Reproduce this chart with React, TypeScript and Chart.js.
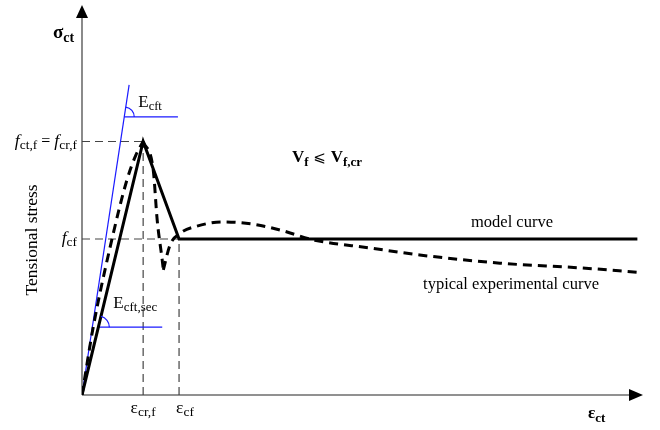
import React, { useEffect, useRef } from "react";
import { Chart, registerables } from "chart.js";
Chart.register(...registerables);

// strain (arbitrary units, 0..100) and stress (arbitrary units, 0..100)
const modelStrain = [0, 10.9, 17.3, 99];
const modelStress = [0, 65, 40, 40];
const expRiseStrain = [0, 2.0, 5.3, 8.0, 9.6, 10.9];
const expRiseStress = [0, 17.4, 39.7, 55.1, 61.5, 65];
const expFallStrain = [10.9, 12.7, 13.4, 14.3, 14.5];
const expFallStress = [65, 57.7, 44.9, 34.6, 32.1];
const expTailStrain = [14.5, 15.7, 17.5, 20.5, 25.1, 30.5, 35.3, 41.5, 51.3, 60.2, 74.5, 88.8, 98.9];
const expTailStress = [32.1, 38.5, 41.5, 43.3, 44.4, 43.8, 42.3, 39.7, 37.7, 35.9, 33.8, 32.6, 31.5];
const tangentStrain = [0, 8.4];
const tangentStress = [0, 79.5];
const tangentMarkStress = 71.3;
const tangentMarkEnd = 17.1;
const secantMarkStress = 17.4;
const secantMarkEnd = 14.3;
const peakStrain = 10.9;
const peakStress = 65;
const crackStrain = 17.3;
const residualStress = 40;

const pts = (xs: number[], ys: number[]) => xs.map((x, i) => ({ x, y: ys[i] }));

const SERIF = "'Liberation Serif', 'DejaVu Serif', serif";

type Part = { t: string; f: string; dy?: number };
function drawParts(ctx: CanvasRenderingContext2D, parts: Part[], x: number, y: number, align: "left" | "right" | "center" = "left") {
  ctx.textAlign = "left";
  ctx.textBaseline = "alphabetic";
  const widths = parts.map((p) => {
    ctx.font = p.f;
    return ctx.measureText(p.t).width;
  });
  const total = widths.reduce((a, b) => a + b, 0);
  let cx = align === "left" ? x : align === "right" ? x - total : x - total / 2;
  parts.forEach((p, i) => {
    ctx.font = p.f;
    ctx.fillText(p.t, cx, y + (p.dy || 0));
    cx += widths[i];
  });
}

const diagramPlugin = {
  id: "diagram",
  beforeDatasetsDraw(chart: any) {
    const ctx: CanvasRenderingContext2D = chart.ctx;
    const xs = chart.scales.x;
    const ys = chart.scales.y;
    const x0 = xs.getPixelForValue(0);
    const y0 = ys.getPixelForValue(0);
    const top = chart.chartArea.top;
    const right = chart.chartArea.right;
    ctx.save();
    ctx.strokeStyle = "#6e6e6e";
    ctx.lineWidth = 1.6;
    ctx.beginPath();
    ctx.moveTo(x0, y0);
    ctx.lineTo(x0, top + 10);
    ctx.moveTo(x0, y0);
    ctx.lineTo(right - 10, y0);
    ctx.stroke();
    ctx.restore();
  },
  afterDraw(chart: any) {
    const ctx: CanvasRenderingContext2D = chart.ctx;
    const xs = chart.scales.x;
    const ys = chart.scales.y;
    const X = (v: number) => xs.getPixelForValue(v);
    const Y = (v: number) => ys.getPixelForValue(v);
    const x0 = X(0);
    const y0 = Y(0);
    const top = chart.chartArea.top;
    const right = chart.chartArea.right;
    ctx.save();
    // arrowheads
    ctx.fillStyle = "#000";
    ctx.beginPath();
    ctx.moveTo(x0, top);
    ctx.lineTo(x0 - 6, top + 13);
    ctx.lineTo(x0 + 6, top + 13);
    ctx.closePath();
    ctx.fill();
    ctx.beginPath();
    ctx.moveTo(right, y0);
    ctx.lineTo(right - 14, y0 - 6);
    ctx.lineTo(right - 14, y0 + 6);
    ctx.closePath();
    ctx.fill();

    // angle arcs
    ctx.strokeStyle = "#1a1aff";
    ctx.lineWidth = 1.2;
    const tx = (tangentStrain[1] * tangentMarkStress) / tangentStress[1];
    const tcx = X(tx), tcy = Y(tangentMarkStress);
    const tang = Math.atan2(Y(tangentStress[1]) - Y(0), X(tangentStrain[1]) - X(0));
    ctx.beginPath();
    ctx.arc(tcx, tcy, 10, tang, 0, false);
    ctx.stroke();
    const sx = (peakStrain * secantMarkStress) / peakStress;
    const scx = X(sx), scy = Y(secantMarkStress);
    const sang = Math.atan2(Y(peakStress) - Y(0), X(peakStrain) - X(0));
    ctx.beginPath();
    ctx.arc(scx, scy, 11, sang, 0, false);
    ctx.stroke();

    // texts
    ctx.fillStyle = "#000";
    drawParts(ctx, [
      { t: "σ", f: `bold 19px ${SERIF}` },
      { t: "ct", f: `bold 14px ${SERIF}`, dy: 4 },
    ], x0 - 29, 38);

    drawParts(ctx, [
      { t: "E", f: `17px ${SERIF}` },
      { t: "cft", f: `12.5px ${SERIF}`, dy: 3 },
    ], tcx + 14, tcy - 10);

    drawParts(ctx, [
      { t: "f", f: `italic 17.5px ${SERIF}` },
      { t: "ct,f", f: `13.5px ${SERIF}`, dy: 3 },
      { t: " = ", f: `16px ${SERIF}` },
      { t: "f", f: `italic 17.5px ${SERIF}` },
      { t: "cr,f", f: `13.5px ${SERIF}`, dy: 3 },
    ], x0 - 5, Y(peakStress) + 4, "right");

    drawParts(ctx, [
      { t: "f", f: `italic 17.5px ${SERIF}` },
      { t: "cf", f: `13.5px ${SERIF}`, dy: 3 },
    ], x0 - 5, Y(residualStress) + 4, "right");

    drawParts(ctx, [
      { t: "E", f: `17px ${SERIF}` },
      { t: "cft,sec", f: `13px ${SERIF}`, dy: 3 },
    ], scx + 15, scy - 19);

    drawParts(ctx, [
      { t: "ε", f: `17.5px ${SERIF}` },
      { t: "cr,f", f: `13.5px ${SERIF}`, dy: 3 },
    ], X(peakStrain), y0 + 18, "center");

    drawParts(ctx, [
      { t: "ε", f: `17.5px ${SERIF}` },
      { t: "cf", f: `13.5px ${SERIF}`, dy: 3 },
    ], X(crackStrain) - 3, y0 + 18, "left");

    drawParts(ctx, [
      { t: "ε", f: `bold 17px ${SERIF}` },
      { t: "ct", f: `bold 13px ${SERIF}`, dy: 4 },
    ], right - 55, y0 + 23);

    drawParts(ctx, [
      { t: "V", f: `bold 17px ${SERIF}` },
      { t: "f", f: `bold 13px ${SERIF}`, dy: 4 },
      { t: " ⩽ ", f: `15px 'DejaVu Sans', sans-serif` },
      { t: "V", f: `bold 17px ${SERIF}` },
      { t: "f,cr", f: `bold 13px ${SERIF}`, dy: 4 },
    ], 292, 162);

    drawParts(ctx, [{ t: "model curve", f: `16.5px ${SERIF}` }], 512, Y(residualStress) - 12, "center");
    drawParts(ctx, [{ t: "typical experimental curve", f: `16.5px ${SERIF}` }], 511, 289, "center");

    ctx.save();
    ctx.translate(31, 240);
    ctx.rotate(-Math.PI / 2);
    drawParts(ctx, [{ t: "Tensional stress", f: `17.5px ${SERIF}` }], 0, 6, "center");
    ctx.restore();

    ctx.restore();
  },
};

export default function App() {
  const ref = useRef<HTMLCanvasElement | null>(null);
  useEffect(() => {
    if (!ref.current) return;
    const dashRef = [8, 5];
    const chart = new Chart(ref.current, {
      type: "scatter",
      data: {
        datasets: [
          {
            label: "model curve",
            data: pts(modelStrain, modelStress),
            showLine: true,
            borderColor: "#000",
            borderWidth: 3,
            pointRadius: 0,
            tension: 0,
          },
          {
            label: "exp rise",
            data: pts(expRiseStrain, expRiseStress),
            showLine: true,
            borderColor: "#000",
            borderWidth: 3,
            borderDash: [9, 6],
            pointRadius: 0,
            cubicInterpolationMode: "monotone",
          },
          {
            label: "exp fall",
            data: pts(expFallStrain, expFallStress),
            showLine: true,
            borderColor: "#000",
            borderWidth: 3,
            borderDash: [9, 6],
            pointRadius: 0,
            cubicInterpolationMode: "monotone",
          },
          {
            label: "exp tail",
            data: pts(expTailStrain, expTailStress),
            showLine: true,
            borderColor: "#000",
            borderWidth: 3,
            borderDash: [9, 6],
            pointRadius: 0,
            cubicInterpolationMode: "monotone",
          },
          {
            label: "tangent",
            data: pts(tangentStrain, tangentStress),
            showLine: true,
            borderColor: "#1a1aff",
            borderWidth: 1.2,
            pointRadius: 0,
          },
          {
            label: "tangent mark",
            data: [
              { x: (tangentStrain[1] * tangentMarkStress) / tangentStress[1], y: tangentMarkStress },
              { x: tangentMarkEnd, y: tangentMarkStress },
            ],
            showLine: true,
            borderColor: "#1a1aff",
            borderWidth: 1.2,
            pointRadius: 0,
          },
          {
            label: "secant mark",
            data: [
              { x: (peakStrain * secantMarkStress) / peakStress, y: secantMarkStress },
              { x: secantMarkEnd, y: secantMarkStress },
            ],
            showLine: true,
            borderColor: "#1a1aff",
            borderWidth: 1.2,
            pointRadius: 0,
          },
          {
            label: "peak h",
            data: [{ x: 0, y: peakStress }, { x: peakStrain, y: peakStress }],
            showLine: true,
            borderColor: "#444",
            borderWidth: 1.2,
            borderDash: dashRef,
            pointRadius: 0,
          },
          {
            label: "peak v",
            data: [{ x: peakStrain, y: 0 }, { x: peakStrain, y: peakStress }],
            showLine: true,
            borderColor: "#444",
            borderWidth: 1.2,
            borderDash: dashRef,
            pointRadius: 0,
          },
          {
            label: "res h",
            data: [{ x: 0, y: residualStress }, { x: crackStrain, y: residualStress }],
            showLine: true,
            borderColor: "#444",
            borderWidth: 1.2,
            borderDash: dashRef,
            pointRadius: 0,
          },
          {
            label: "res v",
            data: [{ x: crackStrain, y: 0 }, { x: crackStrain, y: residualStress }],
            showLine: true,
            borderColor: "#444",
            borderWidth: 1.2,
            borderDash: dashRef,
            pointRadius: 0,
          },
        ],
      },
      options: {
        responsive: false,
        animation: false,
        devicePixelRatio: 1,
        layout: { padding: { left: 82, right: 17, top: 5, bottom: 35 } },
        plugins: { legend: { display: false }, tooltip: { enabled: false } },
        scales: {
          x: { type: "linear", min: 0, max: 100, display: false },
          y: { type: "linear", min: 0, max: 100, display: false },
        },
        events: [],
      } as any,
      plugins: [diagramPlugin as any],
    });
    return () => chart.destroy();
  }, []);
  return (
    <div style={{ position: "absolute", left: 0, top: 0, width: 660, height: 430, background: "#fff" }}>
      <canvas ref={ref} width={660} height={430} style={{ display: "block" }} />
    </div>
  );
}
